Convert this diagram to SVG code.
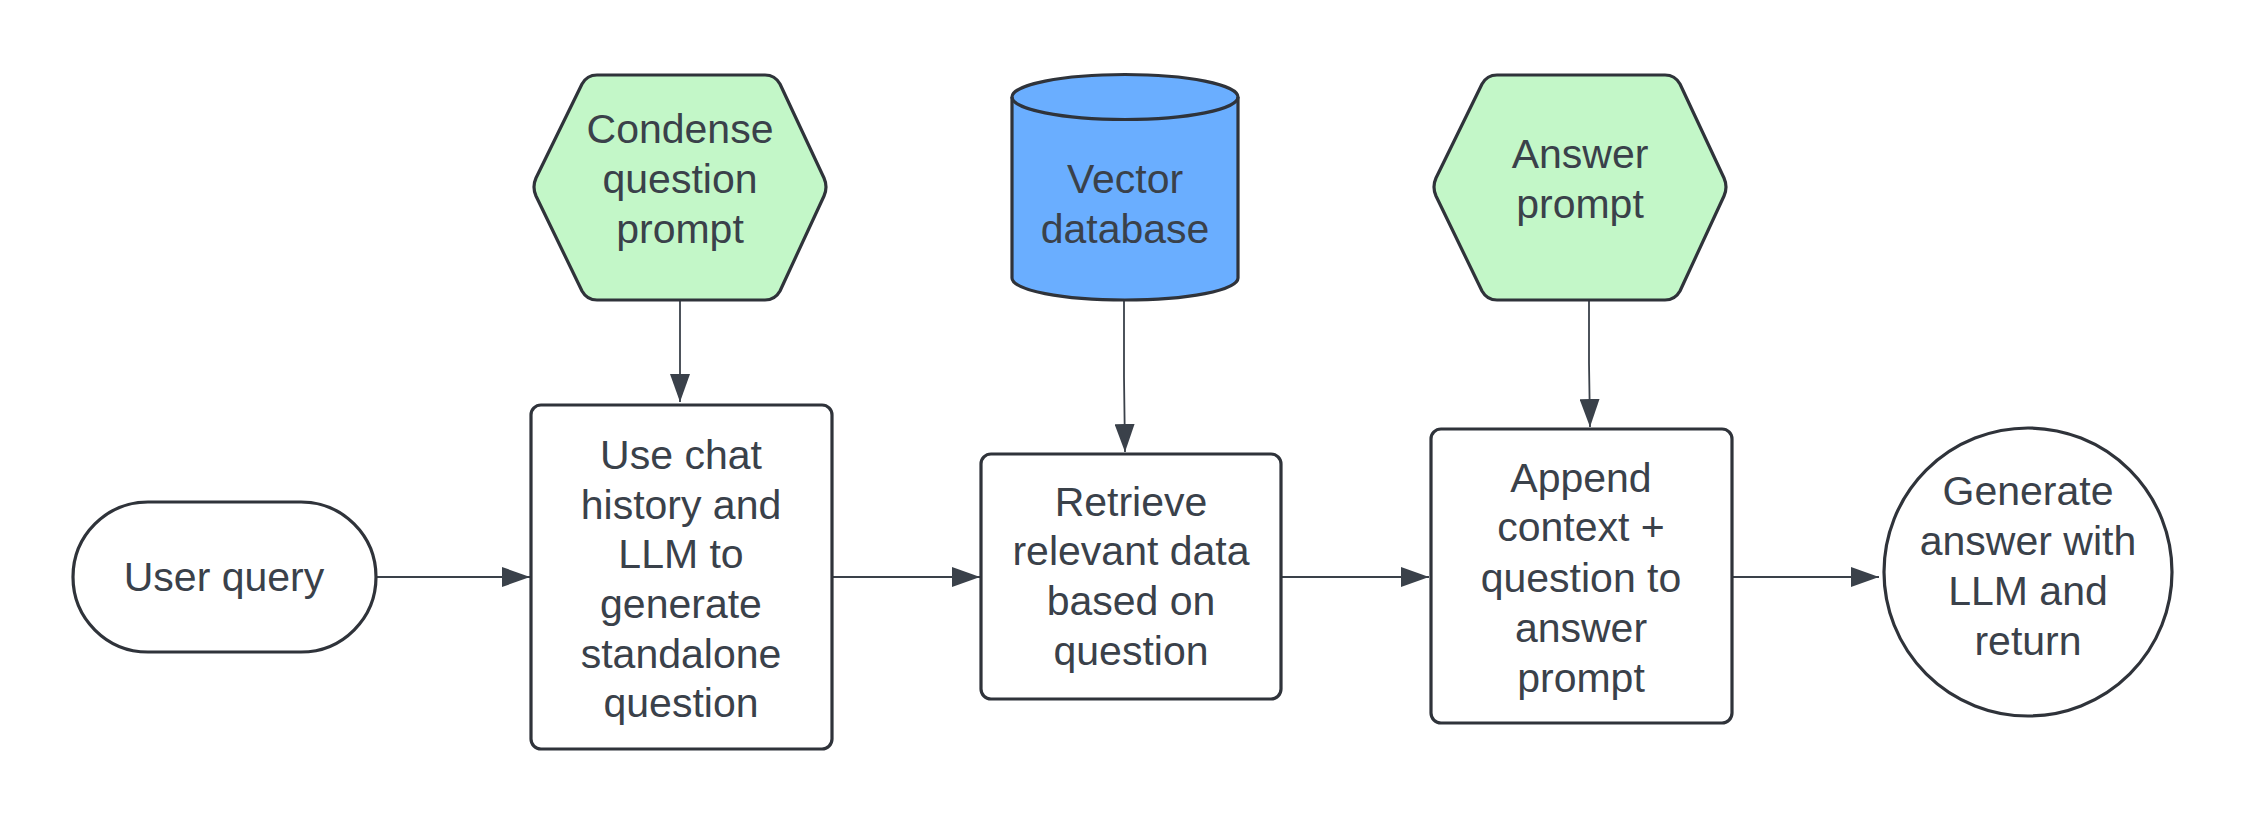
<svg xmlns="http://www.w3.org/2000/svg" width="2250" height="825" viewBox="0 0 2250 825">
<style>
.shape{stroke:#2f333a;stroke-width:3.2;stroke-linejoin:round}
.white{fill:#ffffff}
.green{fill:#c3f7c8}
.blue{fill:#6aaeff}
.lbl{font-family:"Liberation Sans",Arial,sans-serif;font-size:41px;fill:#3a414a;text-anchor:middle}
.conn{fill:none;stroke:#3a414a;stroke-width:1.8}
</style>
<defs>
<marker id="arr" markerWidth="28" markerHeight="20" refX="28" refY="10" orient="auto" markerUnits="userSpaceOnUse">
<path d="M0,0 L28,10 L0,20 Z" fill="#3a414a"/>
</marker>
</defs>
<rect width="2250" height="825" fill="#ffffff"/>
<g id="connectors">
<path class="conn" d="M376,577 L530,577" marker-end="url(#arr)"/>
<path class="conn" d="M680,300 L680,402" marker-end="url(#arr)"/>
<path class="conn" d="M832,577 L980,577" marker-end="url(#arr)"/>
<path class="conn" d="M1124,300 L1124,377 L1125,452" marker-end="url(#arr)"/>
<path class="conn" d="M1281,577 L1429,577" marker-end="url(#arr)"/>
<path class="conn" d="M1589,300 L1589,363 L1590,427" marker-end="url(#arr)"/>
<path class="conn" d="M1732,577 L1879,577" marker-end="url(#arr)"/>
</g>
<g id="user-query">
<rect class="shape white" x="73" y="502" width="303" height="150" rx="75" ry="75"/>
<text class="lbl" x="224" y="591">User query</text>
</g>
<g id="condense-prompt">
<path class="shape green" d="M597,75 L765,75 Q775,75 780,84 L824,178 Q828,187 824,196 L780,291 Q775,300 765,300 L597,300 Q587,300 582,291 L536,196 Q532,187 536,178 L582,84 Q587,75 597,75 Z"/>
<text class="lbl" x="680" y="143">Condense</text>
<text class="lbl" x="680" y="193">question</text>
<text class="lbl" x="680" y="243">prompt</text>
</g>
<g id="standalone-question">
<rect class="shape white" x="531" y="405" width="301" height="344" rx="10" ry="10"/>
<text class="lbl" x="681" y="469">Use chat</text>
<text class="lbl" x="681" y="519">history and</text>
<text class="lbl" x="681" y="568">LLM to</text>
<text class="lbl" x="681" y="618">generate</text>
<text class="lbl" x="681" y="668">standalone</text>
<text class="lbl" x="681" y="717">question</text>
</g>
<g id="vector-db">
<path class="shape blue" d="M1012,97 A113,22.5 0 0 1 1238,97 L1238,278 A113,22 0 0 1 1012,278 Z"/>
<path class="shape" fill="none" d="M1012,97 A113,22.5 0 0 0 1238,97"/>
<text class="lbl" x="1125" y="193">Vector</text>
<text class="lbl" x="1125" y="243">database</text>
</g>
<g id="retrieve">
<rect class="shape white" x="981" y="454" width="300" height="245" rx="10" ry="10"/>
<text class="lbl" x="1131" y="516">Retrieve</text>
<text class="lbl" x="1131" y="565">relevant data</text>
<text class="lbl" x="1131" y="615">based on</text>
<text class="lbl" x="1131" y="665">question</text>
</g>
<g id="answer-prompt">
<path class="shape green" d="M1497,75 L1665,75 Q1675,75 1680,84 L1724,178 Q1728,187 1724,196 L1680,291 Q1675,300 1665,300 L1497,300 Q1487,300 1482,291 L1436,196 Q1432,187 1436,178 L1482,84 Q1487,75 1497,75 Z"/>
<text class="lbl" x="1580" y="168">Answer</text>
<text class="lbl" x="1580" y="218">prompt</text>
</g>
<g id="append">
<rect class="shape white" x="1431" y="429" width="301" height="294" rx="10" ry="10"/>
<text class="lbl" x="1581" y="492">Append</text>
<text class="lbl" x="1581" y="541">context +</text>
<text class="lbl" x="1581" y="592">question to</text>
<text class="lbl" x="1581" y="642">answer</text>
<text class="lbl" x="1581" y="692">prompt</text>
</g>
<g id="generate-answer">
<circle class="shape white" cx="2028" cy="572" r="144"/>
<text class="lbl" x="2028" y="505">Generate</text>
<text class="lbl" x="2028" y="555">answer with</text>
<text class="lbl" x="2028" y="605">LLM and</text>
<text class="lbl" x="2028" y="655">return</text>
</g>
</svg>
